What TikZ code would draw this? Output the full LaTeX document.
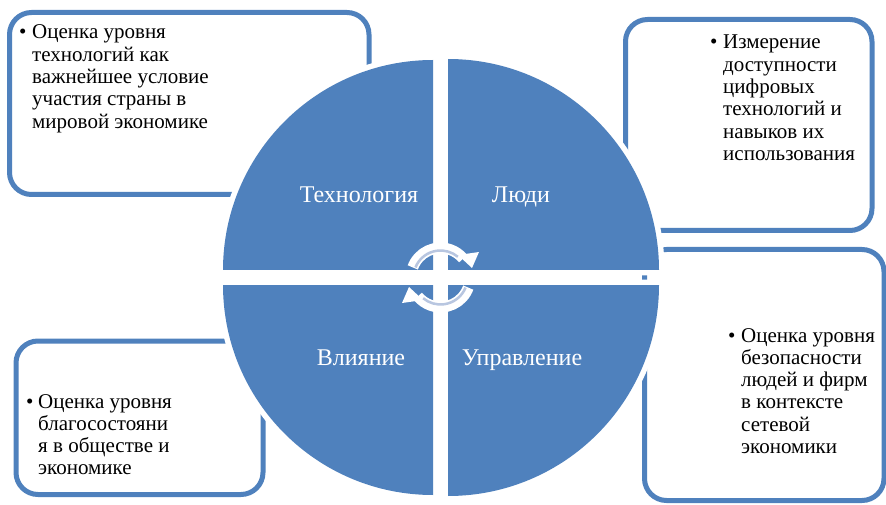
\documentclass[tikz,border=0pt]{standalone}
\usepackage{fontspec}
\setmainfont{Liberation Serif}
\definecolor{ablue}{RGB}{79,129,189}
\definecolor{astripe}{RGB}{184,198,224}
\begin{document}
\begin{tikzpicture}[x=1pt,y=1pt,
  infobox/.style={draw=ablue, line width=5pt, fill=white, rounded corners=22pt},
  quad/.style={fill=ablue, preaction={draw=white, line width=11pt}},
  qlabel/.style={text=white, font=\fontsize{24}{28}\selectfont, anchor=base, inner sep=0pt},
  btext/.style={font=\fontsize{21}{22.3}\selectfont, anchor=base west, inner sep=0pt},
  ]
\useasboundingbox (0,0) rectangle (886,504);
% boxes
\draw[infobox] (9.5,309.5) rectangle (369,491.5);
\draw[infobox] (625.5,273.5) rectangle (872,484.5);
\draw[infobox] (644.5,3.5) rectangle (884,254.5);
\draw[infobox] (16,9.5) rectangle (263,163);
% box texts
\node[btext] (b1) at (19,465) {•};
\node[btext] (t1) at (32,465) {\begin{tabular}[t]{@{}l@{}}Оценка уровня\\технологий как\\важнейшее условие\\участия страны в\\мировой экономике\end{tabular}};
\node[btext] (b2) at (710,455) {•};
\node[btext] (t2) at (723,455) {\begin{tabular}[t]{@{}l@{}}Измерение\\доступности\\цифровых\\технологий и\\навыков их\\использования\end{tabular}};
\node[btext] (b3) at (728,162) {•};
\node[btext] (t3) at (741,162) {\begin{tabular}[t]{@{}l@{}}Оценка уровня\\безопасности\\людей и фирм\\в контексте\\сетевой\\экономики\end{tabular}};
\node[btext] (b4) at (26,96) {•};
\node[btext] (t4) at (38,96) {\begin{tabular}[t]{@{}l@{}}Оценка уровня\\благосостояни\\я в обществе и\\экономике\end{tabular}};
% circle quadrants
\path[quad] (433,234) -- (223,234) arc[start angle=180, end angle=90, radius=210pt] -- cycle;
\path[quad] (448,234) -- (448,445) arc[start angle=90, end angle=0, radius=211pt] -- cycle;
\path[quad] (433,219) -- (223,219) arc[start angle=180, end angle=270, radius=210pt] -- cycle;
\path[quad] (448,219) -- (659,219) arc[start angle=0, end angle=-90, radius=211pt] -- cycle;
% quadrant labels
\node[qlabel] (q1) at (359,301) {Технология};
\node[qlabel] (q2) at (521,301) {Люди};
\node[qlabel] (q3) at (361,139) {Влияние};
\node[qlabel] (q4) at (522,139) {Управление};
% circular arrows
\begin{scope}[shift={(440.5,226.5)}]
\foreach \r in {0,180} {
  \begin{scope}[rotate=\r]
    \draw[white, line width=11pt] (160:29.5pt) arc[start angle=160, end angle=40, radius=29.5pt];
    \fill[white] (17.5,22.5) -- (38.5,25.5) -- (31.5,9.5) -- cycle;
    \draw[astripe, line width=2.5pt] (158:27pt) arc[start angle=158, end angle=50, radius=27pt];
  \end{scope}
}
\end{scope}
\end{tikzpicture}
\end{document}
